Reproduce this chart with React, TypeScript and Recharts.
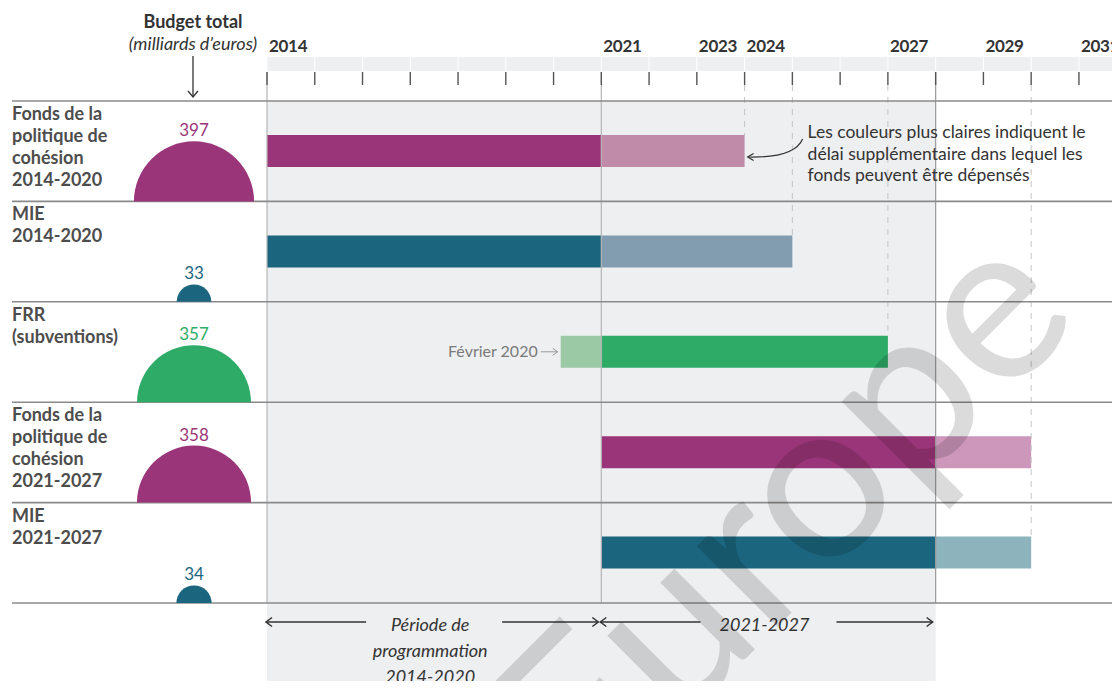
import React from 'react';
import {
  Bar,
  Cell,
  ComposedChart,
  LabelList,
  ReferenceArea,
  ReferenceLine,
  Scatter,
  ScatterChart,
  XAxis,
  YAxis,
  ZAxis,
} from 'recharts';

// rows of the timeline, top to bottom
const ROW_NAMES = [
  'Fonds de la politique de cohésion 2014-2020',
  'MIE 2014-2020',
  'FRR (subventions)',
  'Fonds de la politique de cohésion 2021-2027',
  'MIE 2021-2027',
];
const ROW_LABEL_LINES = [
  ['Fonds de la', 'politique de', 'cohésion', '2014-2020'],
  ['MIE', '2014-2020'],
  ['FRR', '(subventions)'],
  ['Fonds de la', 'politique de', 'cohésion', '2021-2027'],
  ['MIE', '2021-2027'],
];
// budget total, billions of euros
const BUDGETS = [397, 33, 357, 358, 34];
// programming period
const MAIN_START = [2014, 2014, 2021, 2021, 2021];
const MAIN_END = [2021, 2021, 2027, 2028, 2028];
// extra time to spend the funds (lighter colour)
const EXTRA_START = [2021, 2021, 2020.15, 2028, 2028];
const EXTRA_END = [2024, 2025, 2021, 2030, 2030];

const DARK = ['#9b3579', '#1b667e', '#2eab67', '#9b3579', '#1b667e'];
const LIGHT = ['#c08aa9', '#829daf', '#9bc9a5', '#cd97bb', '#8db3bd'];

const YEAR_TICKS = [2014, 2015, 2016, 2017, 2018, 2019, 2020, 2021, 2022, 2023, 2024, 2025, 2026, 2027, 2028, 2029, 2030, 2031];
const YEAR_LABELS = [2014, 2021, 2023, 2024, 2027, 2029, 2031];
const SOLID_YEARS = [2014, 2021, 2028];
const SHADED_RANGE = [2014, 2028];
const PERIODS = [
  { from: 2014, to: 2021, lines: ['Période de', 'programmation', '2014-2020'] },
  { from: 2021, to: 2028, lines: ['2021-2027'] },
];

const NOTE_LINES = [
  'Les couleurs plus claires indiquent le',
  'délai supplémentaire dans lequel les',
  'fonds peuvent être dépensés',
];

const FONT = 'Lato, "Open Sans", sans-serif';
const W = 1120;
const H = 689;
const PLOT_LEFT = 267;
const PLOT_TOP = 101;
const PLOT_BOTTOM = 603;
const ROW_H = (PLOT_BOTTOM - PLOT_TOP) / ROW_NAMES.length;
const X_MIN = 2014;
const X_MAX = 2031.86;
const YEAR_W = (W - PLOT_LEFT) / (X_MAX - X_MIN);
const BAR_H = 32;
const LINE = '#8a8a8a';
const SHADE = '#eeeff1';
const R_MAX = 60.3; // radius at 400

const rows = ROW_NAMES.map((name, i) => ({
  name,
  main: [MAIN_START[i], MAIN_END[i]],
  extra: [EXTRA_START[i], EXTRA_END[i]],
}));

const budgetPoints = BUDGETS.map((budget, i) => ({ col: 0, base: i + 1, budget, color: DARK[i] }));

// dashed guide from the header down to the last bar that stops on that year
const rowEnds = rows.map((r) => Math.max(r.main[1], r.extra[1]));
const dashed = Array.from(new Set(rowEnds))
  .filter((yr) => !SOLID_YEARS.includes(yr))
  .map((yr) => ({ year: yr, row: rowEnds.lastIndexOf(yr) }));

function YearTick(props: any) {
  const { x, y, payload } = props;
  const v = payload.value;
  return (
    <g>
      <rect x={x + 0.5} y={y - 44} width={YEAR_W - 1} height={14} fill={SHADE} />
      <line x1={x} x2={x} y1={y - 29} y2={y - 16} stroke="#555" strokeWidth={1.4} />
      {YEAR_LABELS.includes(v) && (
        <text x={x + 2} y={y - 49} fontSize={17} letterSpacing={-0.3} fontWeight={700} fill="#333" fontFamily={FONT}>
          {v}
        </text>
      )}
    </g>
  );
}

function RowTick(props: any) {
  const { x, y, payload } = props;
  const lines = ROW_LABEL_LINES[ROW_NAMES.indexOf(payload.value)];
  if (!lines) return <g />;
  const top = y - ROW_H / 2;
  return (
    <text x={x} y={top + 19} fontSize={18} fontWeight={700} fill="#4d4d4d" fontFamily={FONT} textAnchor="start">
      {lines.map((l, k) => (
        <tspan key={k} x={x} dy={k === 0 ? 0 : 22}>
          {l}
        </tspan>
      ))}
    </text>
  );
}

function RowLine(props: any) {
  return <line x1={12} x2={props.x2} y1={props.y1} y2={props.y1} stroke={LINE} strokeWidth={1.6} />;
}

function ShadeRect(props: any) {
  return <rect x={props.x} y={props.y} width={props.width} height={H - props.y} fill={SHADE} />;
}

function SolidLine(props: any) {
  const top = Math.min(props.y1, props.y2);
  const bottom = Math.max(props.y1, props.y2);
  return <line x1={props.x1} x2={props.x1} y1={top - 29} y2={bottom} stroke={props.stroke} strokeWidth={1.2} />;
}

function dashShape(row: number) {
  return (props: any) => {
    const top = Math.min(props.y1, props.y2);
    return (
      <line
        x1={props.x1}
        x2={props.x1}
        y1={top - 16}
        y2={top + row * ROW_H + ROW_H / 2 - BAR_H / 2}
        stroke="#c4c4c4"
        strokeWidth={1}
        strokeDasharray="6 6"
      />
    );
  };
}

function periodShape(lines: string[]) {
  return (props: any) => {
    const x1 = props.x;
    const x2 = props.x + props.width;
    const y = props.y + props.height + 19;
    const mid = (x1 + x2) / 2;
    const gap = 68;
    const tx = mid - 4;
    return (
      <g fontFamily={FONT}>
        <line x1={x1 - 1} x2={mid - gap} y1={y} y2={y} stroke="#333" strokeWidth={1.5} />
        <path d={`M ${x1 + 5} ${y - 4.5} L ${x1 - 1} ${y} L ${x1 + 5} ${y + 4.5}`} stroke="#333" strokeWidth={1.5} fill="none" />
        <line x1={mid + gap} x2={x2 - 3} y1={y} y2={y} stroke="#333" strokeWidth={1.5} />
        <path d={`M ${x2 - 9} ${y - 4.5} L ${x2 - 3} ${y} L ${x2 - 9} ${y + 4.5}`} stroke="#333" strokeWidth={1.5} fill="none" />
        <text x={tx} y={y + 9} fontSize={18} fontStyle="italic" fill="#333" textAnchor="middle">
          {lines.map((l, k) => (
            <tspan key={k} x={tx} dy={k === 0 ? 0 : 26}>
              {l}
            </tspan>
          ))}
        </text>
      </g>
    );
  };
}

function ExtraNote(props: any) {
  const vb = props.viewBox || props;
  const { x, y, width, height } = vb;
  if (props.value === ROW_NAMES[0]) {
    const ex = x + width;
    return (
      <g fontFamily={FONT}>
        <path d={`M ${ex + 58} ${y + 4} Q ${ex + 50} ${y + 23} ${ex + 4} ${y + 22}`} stroke="#333" strokeWidth={1.2} fill="none" />
        <path d={`M ${ex + 9} ${y + 18.5} L ${ex + 3} ${y + 22} L ${ex + 9} ${y + 25.5}`} stroke="#333" strokeWidth={1.2} fill="none" />
        <text x={ex + 63} y={y + 3} fontSize={17.5} fill="#333">
          {NOTE_LINES.map((l, k) => (
            <tspan key={k} x={ex + 63} dy={k === 0 ? 0 : 21.5}>
              {l}
            </tspan>
          ))}
        </text>
      </g>
    );
  }
  if (props.value === ROW_NAMES[2]) {
    const cy = y + height / 2;
    return (
      <g fontFamily={FONT}>
        <text x={x - 23} y={cy + 5} fontSize={16} fill="#7a7a7a" textAnchor="end">
          Février 2020
        </text>
        <line x1={x - 20} x2={x - 3} y1={cy} y2={cy} stroke="#9a9a9a" strokeWidth={1} />
        <path d={`M ${x - 8} ${cy - 3.5} L ${x - 3} ${cy} L ${x - 8} ${cy + 3.5}`} stroke="#9a9a9a" fill="none" />
      </g>
    );
  }
  return null;
}

function HalfDisc(props: any) {
  const { cx, cy, size, payload } = props;
  const r = size != null ? Math.sqrt(size / Math.PI) : (props.width || 0) / 2;
  return (
    <g>
      <path d={`M ${cx - r} ${cy} A ${r} ${r} 0 0 1 ${cx + r} ${cy} Z`} fill={payload.color} />
      <text x={cx} y={cy - r - 5} textAnchor="middle" fontSize={17} fill={payload.color} fontFamily={FONT}>
        {payload.budget}
      </text>
    </g>
  );
}

export default function App() {
  return (
    <div style={{ position: 'relative', width: W, height: H, margin: -8, overflow: 'hidden', background: '#fff', fontFamily: FONT }}>
      <div style={{ position: 'absolute', left: 0, top: 0 }}>
        <ComposedChart
          width={W}
          height={H}
          data={rows}
          layout="vertical"
          margin={{ top: 0, right: 0, bottom: H - PLOT_BOTTOM, left: 12 }}
          barGap={-BAR_H}
          barSize={BAR_H}
        >
          <XAxis
            type="number"
            orientation="top"
            domain={[X_MIN, X_MAX]}
            allowDataOverflow
            ticks={YEAR_TICKS}
            interval={0}
            height={PLOT_TOP}
            axisLine={false}
            tickLine={false}
            tickSize={0}
            tickMargin={0}
            tick={YearTick}
          />
          <YAxis
            type="category"
            dataKey="name"
            width={PLOT_LEFT - 12}
            tickSize={0}
            tickMargin={PLOT_LEFT - 12}
            axisLine={false}
            tickLine={false}
            interval={0}
            tick={RowTick}
          />
          <ReferenceArea x1={SHADED_RANGE[0]} x2={SHADED_RANGE[1]} ifOverflow="visible" shape={ShadeRect} />
          {dashed.map((d) => (
            <ReferenceLine key={d.year} x={d.year} ifOverflow="visible" shape={dashShape(d.row)} />
          ))}
          {SOLID_YEARS.map((yr) => (
            <ReferenceLine
              key={yr}
              x={yr}
              ifOverflow="visible"
              stroke={yr === 2028 ? '#9a9a9a' : '#b5b5b5'}
              shape={SolidLine}
            />
          ))}
          {ROW_NAMES.map((n) => (
            <ReferenceLine key={n} y={n} position="start" ifOverflow="visible" shape={RowLine} />
          ))}
          <ReferenceLine y={ROW_NAMES[ROW_NAMES.length - 1]} position="end" ifOverflow="visible" shape={RowLine} />
          {PERIODS.map((p) => (
            <ReferenceArea key={p.from} x1={p.from} x2={p.to} ifOverflow="visible" shape={periodShape(p.lines)} />
          ))}
          <Bar dataKey="main" barSize={BAR_H} isAnimationActive={false}>
            {rows.map((_, i) => (
              <Cell key={i} fill={DARK[i]} />
            ))}
          </Bar>
          <Bar dataKey="extra" barSize={BAR_H} isAnimationActive={false}>
            {rows.map((_, i) => (
              <Cell key={i} fill={LIGHT[i]} />
            ))}
            <LabelList dataKey="name" content={ExtraNote} />
          </Bar>
        </ComposedChart>
      </div>
      <div style={{ position: 'absolute', left: 12, top: 0 }}>
        <ScatterChart width={255} height={H} margin={{ top: PLOT_TOP, right: 11, bottom: H - PLOT_BOTTOM, left: 120 }}>
          <XAxis type="number" dataKey="col" domain={[-1, 1]} hide />
          <YAxis type="number" dataKey="base" domain={[0, 5]} reversed hide />
          <ZAxis type="number" dataKey="budget" domain={[0, 400]} range={[0, Math.PI * R_MAX * R_MAX]} />
          <Scatter data={budgetPoints} shape={HalfDisc} isAnimationActive={false} />
        </ScatterChart>
      </div>
      <svg width={W} height={H} style={{ position: 'absolute', left: 0, top: 0, pointerEvents: 'none' }} fontFamily={FONT}>
        <text x={193} y={28} textAnchor="middle" fontSize={18} fontWeight={700} fill="#333">
          Budget total
        </text>
        <text x={193} y={50} textAnchor="middle" fontSize={18} fontStyle="italic" fill="#333">
          (milliards d’euros)
        </text>
        <line x1={193} x2={193} y1={56} y2={97} stroke="#333" strokeWidth={1.3} />
        <path d="M 188 91 L 193 97 L 198 91" stroke="#333" strokeWidth={1.3} fill="none" />
        <text
          transform="translate(797 528) rotate(-45)"
          x={0}
          y={56}
          textAnchor="middle"
          fontSize={225}
          fill="#000"
          fillOpacity={0.14}
        >
          Europe
        </text>
      </svg>
    </div>
  );
}
